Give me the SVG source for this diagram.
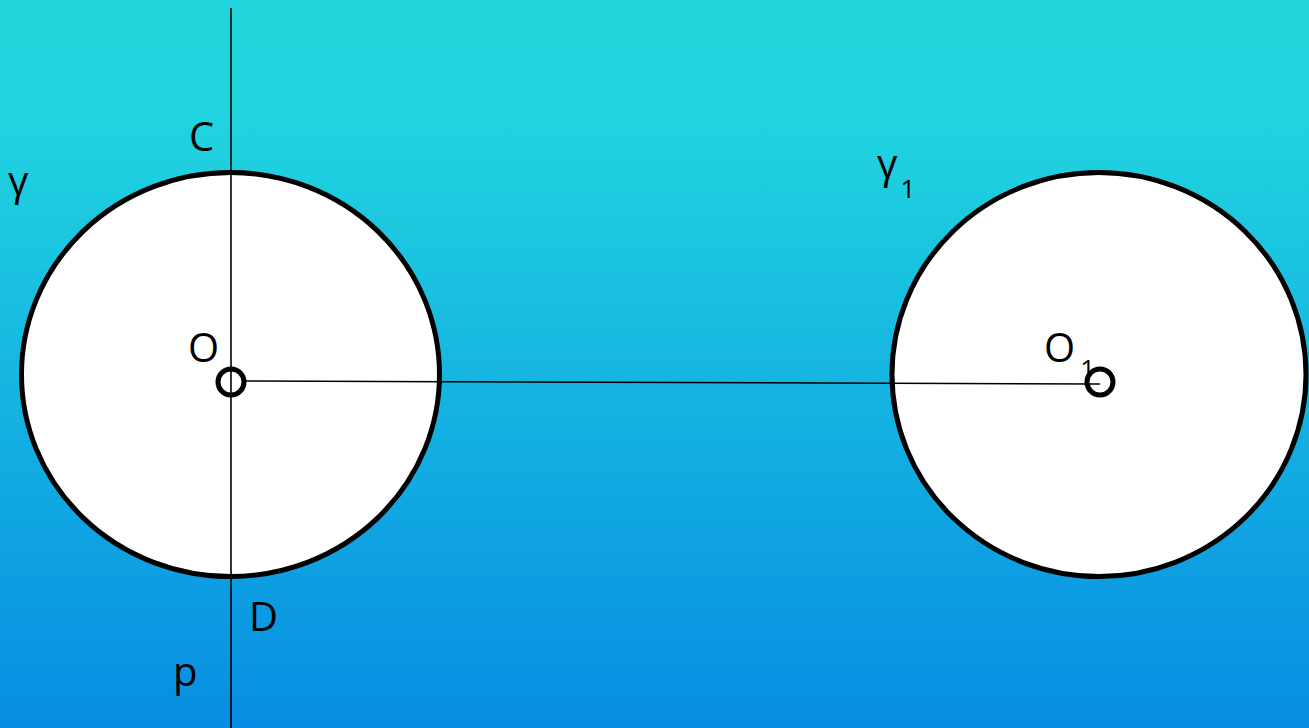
<svg xmlns="http://www.w3.org/2000/svg" width="1309" height="728" viewBox="0 0 1309 728">
<defs>
<linearGradient id="bg" x1="0" y1="0" x2="0" y2="1">
<stop offset="0" stop-color="#21d5dd"/>
<stop offset="0.15" stop-color="#21d5df"/>
<stop offset="1" stop-color="#078de3"/>
</linearGradient>
<style>
.circ{fill:#fff;stroke:#000;stroke-width:5}
.pt{fill:none;stroke:#000;stroke-width:5}
.ln{stroke:#000;stroke-width:1.6;fill:none}
.lbl{font-family:"Open Sans","Noto Sans",sans-serif;font-size:40px;fill:#000}
.sub{font-family:"Open Sans","Noto Sans",sans-serif;font-size:26px;fill:#000}
</style>
</defs>
<rect width="1309" height="728" fill="url(#bg)"/>
<g id="gamma">
<ellipse class="circ" cx="230.5" cy="374.5" rx="209" ry="202"/>
<text class="lbl" x="8" y="195">γ</text>
</g>
<g id="gamma1">
<ellipse class="circ" cx="1099" cy="374.5" rx="207" ry="202"/>
<text class="lbl" x="877" y="178">γ<tspan class="sub" dx="3" dy="20">1</tspan></text>
</g>
<g id="connectors">
<line class="ln" x1="244" y1="381" x2="1100" y2="384"/>
<line class="ln" x1="231" y1="8" x2="231" y2="728"/>
</g>
<g id="O">
<circle class="pt" cx="231" cy="382" r="13"/>
<text class="lbl" x="188" y="362">O</text>
</g>
<g id="O1">
<circle class="pt" cx="1100" cy="382" r="13"/>
<text class="lbl" x="1044" y="362">O<tspan class="sub" dx="5" dy="16">1</tspan></text>
</g>
<g id="C"><text class="lbl" x="189" y="151">C</text></g>
<g id="D"><text class="lbl" x="249" y="631">D</text></g>
<g id="p"><text class="lbl" x="173" y="686">p</text></g>
</svg>
